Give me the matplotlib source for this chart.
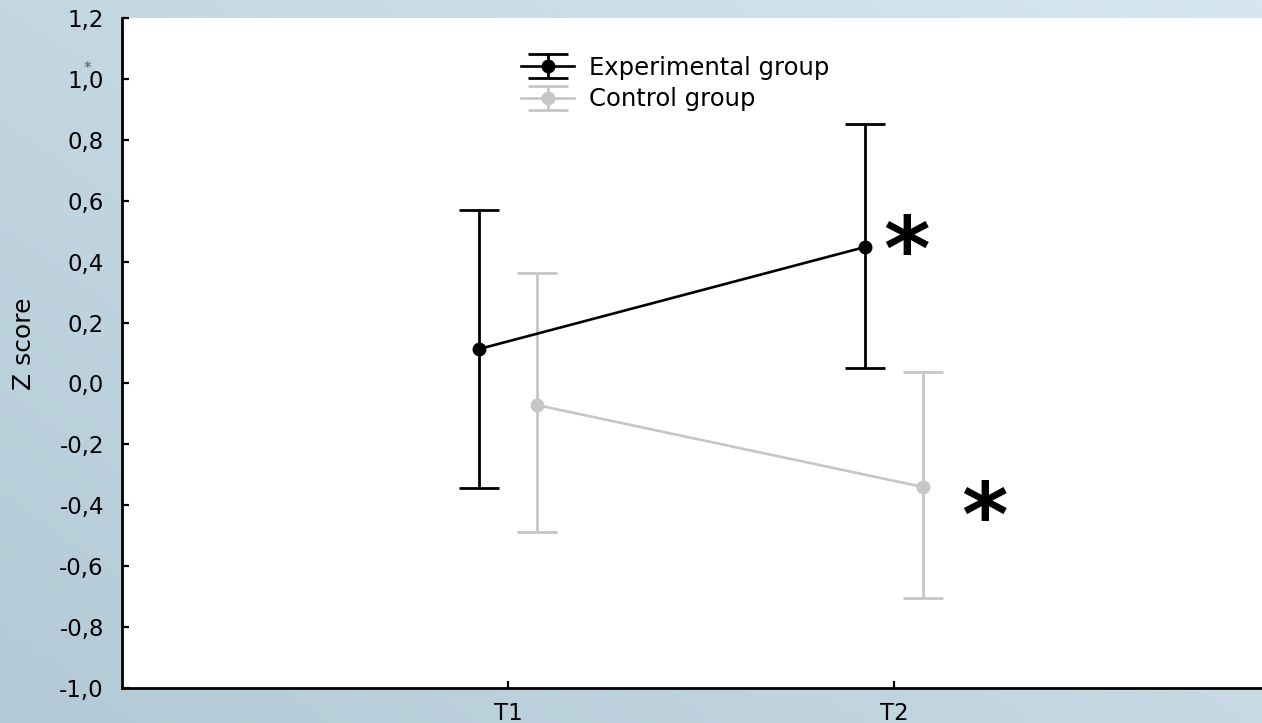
import numpy as np
import matplotlib
matplotlib.use('Agg')
import matplotlib.pyplot as plt

# ---- data ----
categories = ['T1', 'T2']
series_labels = ['Experimental group', 'Control group']
exp_mean = [0.113, 0.448]
exp_upper = [0.570, 0.852]
exp_lower = [-0.343, 0.051]
ctrl_mean = [-0.071, -0.340]
ctrl_upper = [0.363, 0.038]
ctrl_lower = [-0.488, -0.704]
y_ticks = [-1.0, -0.8, -0.6, -0.4, -0.2, 0.0, 0.2, 0.4, 0.6, 0.8, 1.0, 1.2]
y_label = 'Z score'
sig_text = ['*', '*']
sig_x = [1.031, 1.233]
sig_y = [0.481, -0.392]

plt.rcParams['font.family'] = ['DejaVu Sans']

W, H = 1262, 723
fig = plt.figure(figsize=(W / 100, H / 100), dpi=100)

# background gradient
bg = fig.add_axes([0, 0, 1, 1], zorder=-10)
nx, ny = 256, 128
X, Y = np.meshgrid(np.linspace(0, 1, nx), np.linspace(0, 1, ny))
c_dark = np.array([0xb3, 0xca, 0xd6]) / 255
c_light = np.array([0xd6, 0xe7, 0xf0]) / 255
t = np.clip(0.55 * X + 0.45 * (1 - Y), 0, 1)
img = c_dark + (c_light - c_dark) * t[..., None]
bg.imshow(img, aspect='auto', extent=[0, 1, 0, 1], origin='upper')
bg.axis('off')

# main axes
left_px, top_px, bottom_px = 122, 18, 688
ax = fig.add_axes([left_px / W, (H - bottom_px) / H, (W - left_px) / W, (bottom_px - top_px) / H])
ax.set_facecolor('white')

x = np.arange(len(categories))
off = 0.075
px_per_unit = 386.0

def err(mean, lo, hi):
    m = np.array(mean)
    return [m - np.array(lo), np.array(hi) - m]

ax.errorbar(x - off, exp_mean, yerr=err(exp_mean, exp_lower, exp_upper), color='black',
            lw=1.9, marker='o', ms=9, capsize=14.5, capthick=2.0, elinewidth=2.0,
            label=series_labels[0], zorder=3)
ax.errorbar(x + off, ctrl_mean, yerr=err(ctrl_mean, ctrl_lower, ctrl_upper), color='#c6c6c6',
            lw=1.9, marker='o', ms=9, capsize=14.5, capthick=2.0, elinewidth=2.0,
            label=series_labels[1], zorder=2)

for sx, sy, s in zip(sig_x, sig_y, sig_text):
    ax.annotate(s, xy=(sx, sy), xytext=(0, -31), textcoords='offset points',
                ha='center', va='baseline', fontsize=64, fontweight='bold', color='black')

ax.set_xlim(-1, -1 + (W - left_px) / px_per_unit)
ax.set_ylim(-1.0, 1.2)
ax.set_xticks(x)
ax.set_xticklabels(categories)
ax.set_yticks(y_ticks)
ax.set_yticklabels([f"{v:.1f}".replace('.', ',') for v in y_ticks])

for side in ['top', 'right']:
    ax.spines[side].set_visible(False)
for side in ['left', 'bottom']:
    ax.spines[side].set_linewidth(2.0)
    ax.spines[side].set_color('black')

ax.tick_params(axis='both', direction='in', length=5, width=1.6, labelsize=16.5, colors='black')
ax.tick_params(axis='y', pad=13)
ax.tick_params(axis='x', pad=10)

ax.set_ylabel(y_label, fontsize=18)
ax.yaxis.set_label_coords(-0.075, 0.514)

leg = ax.legend(loc='upper left', bbox_to_anchor=(0.35, 0.944), frameon=False, fontsize=17.5,
                handlelength=2.2, handletextpad=0.6, labelspacing=0.32, borderpad=0,
                borderaxespad=0)

fig.text(87 / W, 1 - 69 / H, '*', fontsize=11, color='#555555', ha='center', va='center')

fig.savefig('out.png', dpi=100)
